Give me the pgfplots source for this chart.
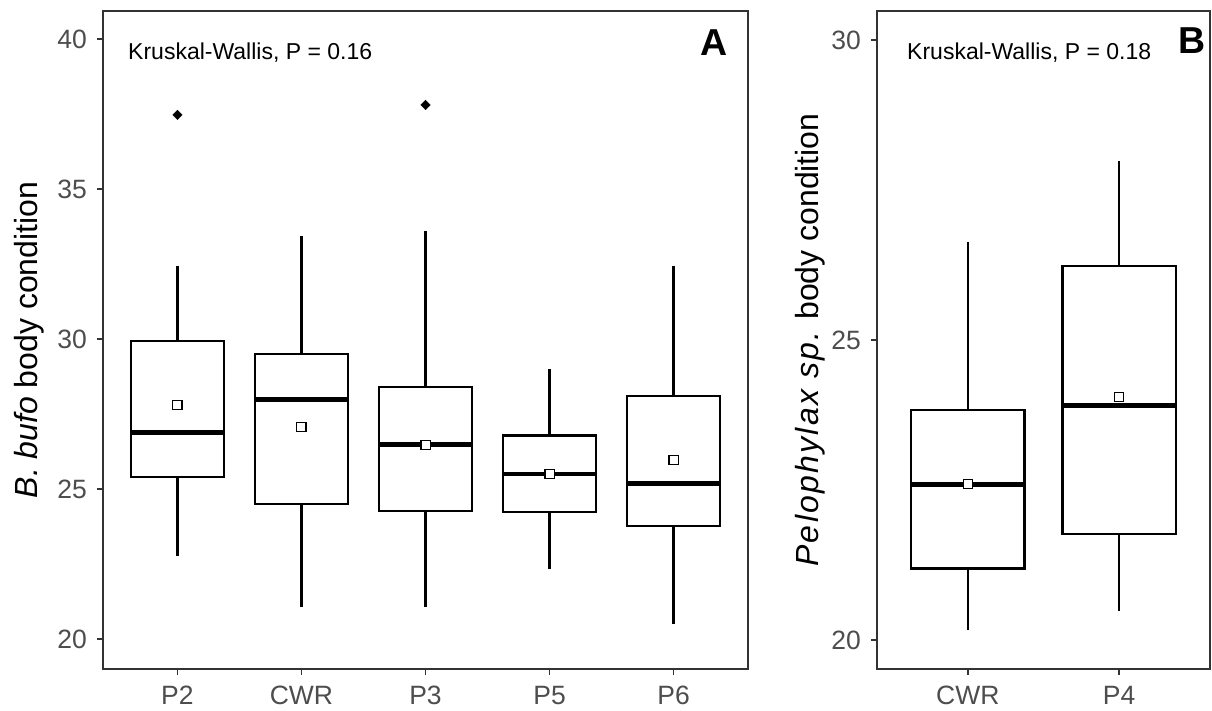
\documentclass[border=0pt]{standalone}
\usepackage{fontspec}
\setmainfont{Liberation Sans}
\usepackage{pgfplots}
\pgfplotsset{compat=1.18}

\definecolor{framegray}{HTML}{333333}
\definecolor{labelgray}{HTML}{4D4D4D}

\pgfplotsset{
  panel/.style={
    scale only axis,
    anchor=south west,
    height=658pt,
    axis line style={draw=framegray, line width=2pt},
    tick align=outside,
    tick pos=left,
    major tick length=6pt,
    major tick style={draw=framegray, line width=1.5pt},
    minor tick num=0,
    tick label style={font=\fontsize{26.5}{30}\selectfont, text=labelgray, inner sep=0pt},
    yticklabel style={anchor=east, xshift=-10pt},
    xticklabel style={anchor=base, yshift=-30pt},
    every axis y label/.style={rotate=90, anchor=base, font=\fontsize{32}{36}\selectfont},
  },
  meanmark/.style={
    only marks, mark=square*, mark size=4.6pt,
    mark options={fill=white, draw=black, line width=1.2pt},
  },
  outliermark/.style={
    only marks, mark=square*, mark size=3.3pt,
    mark options={rotate=45, fill=black, draw=black, line width=0.5pt},
  },
}

% One box: position, box left, box right, lower whisker, Q1, median, Q3, upper whisker
\newcommand{\bxp}[8]{%
  \addplot[black, line width=2.2pt] coordinates {(#1,#4) (#1,#5)};
  \addplot[black, line width=2.2pt] coordinates {(#1,#7) (#1,#8)};
  \addplot[draw=black, fill=white, line width=2.2pt, line join=miter]
    coordinates {(#2,#5) (#3,#5) (#3,#7) (#2,#7)} -- cycle;
  \addplot[black, line width=4.8pt] coordinates {(#2,#6) (#3,#6)};
}

\begin{document}
\begin{tikzpicture}
\useasboundingbox (0,0) rectangle (1212pt,711pt);

% Panel A: Bufo bufo body condition by site
\begin{axis}[
  panel,
  at={(103pt,42pt)},
  width=645pt,
  xmin=0.4, xmax=5.6,
  ymin=19.0, ymax=40.933,
  xtick={1,2,3,4,5},
  xticklabels={P2,CWR,P3,P5,P6},
  ytick={20,25,30,35,40},
  yticklabels={20,25,30,35,40},
  ylabel={{\itshape B. bufo} body condition},
  ylabel style={at={(axis description cs:-0.1023,0.5)}},
]
\bxp{1}{0.625}{1.375}{22.77}{25.41}{26.87}{29.93}{32.44}
\bxp{2}{1.625}{2.375}{21.06}{24.50}{27.99}{29.50}{33.43}
\bxp{3}{2.625}{3.375}{21.06}{24.27}{26.49}{28.41}{33.60}
\bxp{4}{3.625}{4.375}{22.32}{24.23}{25.50}{26.78}{29.01}
\bxp{5}{4.625}{5.375}{20.50}{23.77}{25.17}{28.09}{32.44}
% outliers
\addplot[outliermark] coordinates {(1,37.47) (3,37.80)};
% group means
\addplot[meanmark] coordinates {(1,27.80) (2,27.06) (3,26.47) (4,25.49) (5,25.96)};
\node[anchor=base west, font=\fontsize{23}{26}\selectfont, inner sep=0pt]
  at (axis description cs:0.0388,0.9270) {Kruskal-Wallis, P = 0.16};
\node[anchor=base west, font=\fontsize{37.5}{40}\selectfont\bfseries, inner sep=0pt]
  at (axis description cs:0.9256,0.9331) {A};
\end{axis}

% Panel B: Pelophylax sp. body condition by site
\begin{axis}[
  panel,
  at={(877pt,42pt)},
  width=333pt,
  xmin=0.4, xmax=2.6,
  ymin=19.516, ymax=30.484,
  xtick={1,2},
  xticklabels={CWR,P4},
  ytick={20,25,30},
  yticklabels={20,25,30},
  ylabel={{\itshape\addfontfeatures{LetterSpace=7}Pelophylax sp.} body condition},
  ylabel style={at={(axis description cs:-0.1772,0.5)}},
]
\bxp{1}{0.625}{1.375}{20.17}{21.19}{22.59}{23.83}{26.63}
\bxp{2}{1.625}{2.375}{20.48}{21.77}{23.91}{26.23}{27.98}
% group means
\addplot[meanmark] coordinates {(1,22.60) (2,24.05)};
\node[anchor=base west, font=\fontsize{23}{26}\selectfont, inner sep=0pt]
  at (axis description cs:0.0901,0.9270) {Kruskal-Wallis, P = 0.18};
\node[anchor=base west, font=\fontsize{37.5}{40}\selectfont\bfseries, inner sep=0pt]
  at (axis description cs:0.9039,0.9347) {B};
\end{axis}
\end{tikzpicture}
\end{document}
